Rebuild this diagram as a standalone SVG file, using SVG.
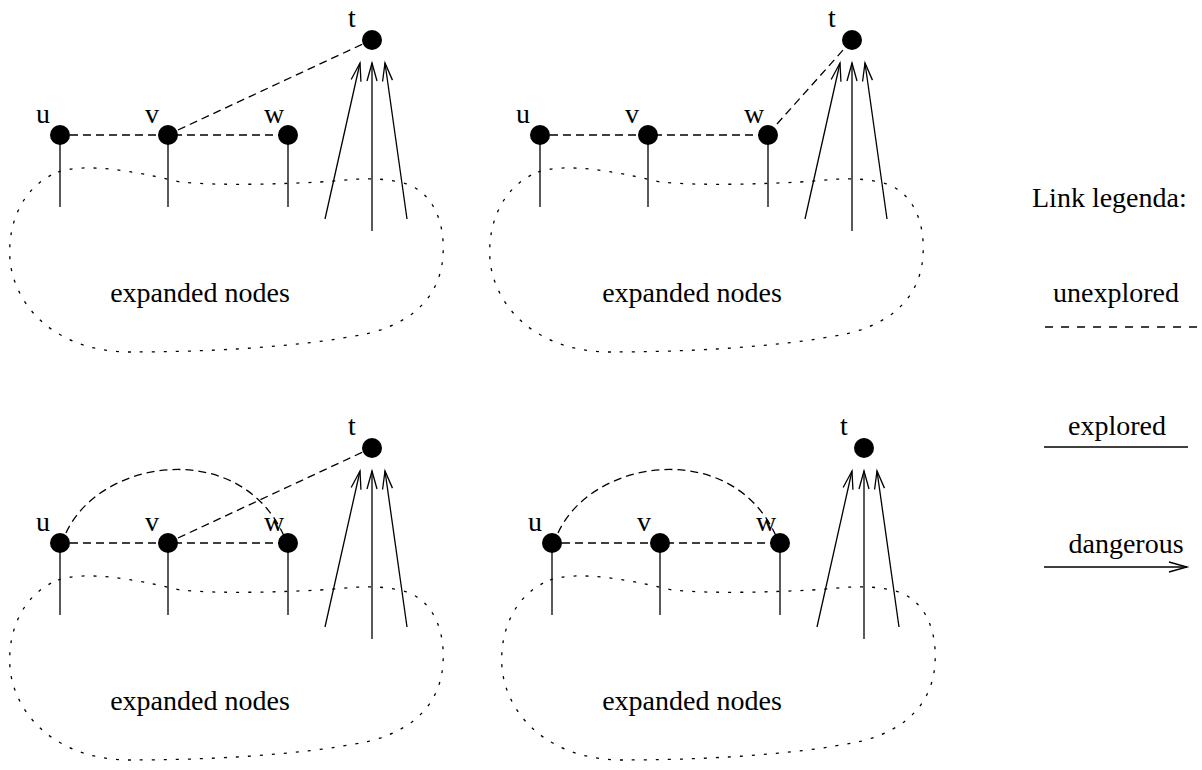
<svg xmlns="http://www.w3.org/2000/svg" width="1202" height="770" viewBox="0 0 1202 770">
<defs>
<style>
.lbl{font-family:"Liberation Serif","Times New Roman",serif;font-size:28px;fill:#000}
.node{fill:#000}
.solid{stroke:#000;stroke-width:1.3;fill:none}
.dash{stroke:#000;stroke-width:1.3;fill:none;stroke-dasharray:8 5}
.dot{stroke:#000;stroke-width:1.3;fill:none;stroke-dasharray:3 9}
.arr{stroke:#000;stroke-width:1.3;fill:none;marker-end:url(#open)}
</style>
<marker id="open" markerUnits="userSpaceOnUse" refX="0" refY="0" markerWidth="20" markerHeight="12" orient="auto" overflow="visible">
<path d="M-18,-5 L0,0 L-18,5" fill="none" stroke="#000" stroke-width="1.3"/>
</marker>
<path id="blob" d="M58,172 C85,163 130,170 180,182 C220,186 280,184 320,182 C350,180 370,176 400,182 C435,190 445,225 443,255 C441,290 420,320 370,333 C300,348 200,352 130,352 C60,352 15,310 10,260 C7,220 25,185 58,172 Z"/>
</defs>
<rect width="1202" height="770" fill="#fff"/>

<!-- Panel 1: top-left -->
<g id="panel1">
<g id="p1-connectors">
<use href="#blob" class="dot"/>
<line class="solid" x1="60" y1="135" x2="60" y2="207"/>
<line class="solid" x1="168" y1="135" x2="168" y2="207"/>
<line class="solid" x1="288" y1="135" x2="288" y2="207"/>
<line class="dash" x1="70" y1="135" x2="280" y2="135"/>
<line class="dash" x1="178" y1="130" x2="365" y2="43"/>
<line class="arr" x1="325" y1="219" x2="360" y2="63"/>
<line class="arr" x1="372" y1="231" x2="372" y2="63"/>
<line class="arr" x1="407" y1="219" x2="385" y2="63"/>
</g>
<g id="p1-u"><circle class="node" cx="60" cy="135" r="10"/><text class="lbl" x="43" y="123" text-anchor="middle">u</text></g>
<g id="p1-v"><circle class="node" cx="168" cy="135" r="10"/><text class="lbl" x="152" y="123" text-anchor="middle">v</text></g>
<g id="p1-w"><circle class="node" cx="288" cy="135" r="10"/><text class="lbl" x="274" y="123" text-anchor="middle">w</text></g>
<g id="p1-t"><circle class="node" cx="372" cy="40" r="10"/><text class="lbl" x="352" y="27" text-anchor="middle">t</text></g>
<g id="p1-label"><text class="lbl" x="200" y="302" text-anchor="middle">expanded nodes</text></g>
</g>

<!-- Panel 2: top-right -->
<g id="panel2">
<g id="p2-connectors" transform="translate(480,0)">
<use href="#blob" class="dot"/>
<line class="solid" x1="60" y1="135" x2="60" y2="207"/>
<line class="solid" x1="168" y1="135" x2="168" y2="207"/>
<line class="solid" x1="288" y1="135" x2="288" y2="207"/>
<line class="dash" x1="70" y1="135" x2="280" y2="135"/>
<line class="dash" x1="297" y1="124" x2="364" y2="49"/>
<line class="arr" x1="325" y1="219" x2="360" y2="63"/>
<line class="arr" x1="372" y1="231" x2="372" y2="63"/>
<line class="arr" x1="407" y1="219" x2="385" y2="63"/>
</g>
<g id="p2-u"><circle class="node" cx="540" cy="135" r="10"/><text class="lbl" x="523" y="123" text-anchor="middle">u</text></g>
<g id="p2-v"><circle class="node" cx="648" cy="135" r="10"/><text class="lbl" x="632" y="123" text-anchor="middle">v</text></g>
<g id="p2-w"><circle class="node" cx="768" cy="135" r="10"/><text class="lbl" x="754" y="123" text-anchor="middle">w</text></g>
<g id="p2-t"><circle class="node" cx="852" cy="40" r="10"/><text class="lbl" x="832" y="27" text-anchor="middle">t</text></g>
<g id="p2-label"><text class="lbl" x="692" y="302" text-anchor="middle">expanded nodes</text></g>
</g>

<!-- Panel 3: bottom-left -->
<g id="panel3">
<g id="p3-connectors" transform="translate(0,408)">
<use href="#blob" class="dot"/>
<line class="solid" x1="60" y1="135" x2="60" y2="207"/>
<line class="solid" x1="168" y1="135" x2="168" y2="207"/>
<line class="solid" x1="288" y1="135" x2="288" y2="207"/>
<line class="dash" x1="70" y1="135" x2="280" y2="135"/>
<line class="dash" x1="178" y1="130" x2="365" y2="43"/>
<path class="dash" d="M66,125 C100,50 240,30 284,128"/>
<line class="arr" x1="325" y1="219" x2="360" y2="63"/>
<line class="arr" x1="372" y1="231" x2="372" y2="63"/>
<line class="arr" x1="407" y1="219" x2="385" y2="63"/>
</g>
<g id="p3-u"><circle class="node" cx="60" cy="543" r="10"/><text class="lbl" x="43" y="531" text-anchor="middle">u</text></g>
<g id="p3-v"><circle class="node" cx="168" cy="543" r="10"/><text class="lbl" x="152" y="531" text-anchor="middle">v</text></g>
<g id="p3-w"><circle class="node" cx="288" cy="543" r="10"/><text class="lbl" x="274" y="531" text-anchor="middle">w</text></g>
<g id="p3-t"><circle class="node" cx="372" cy="448" r="10"/><text class="lbl" x="352" y="435" text-anchor="middle">t</text></g>
<g id="p3-label"><text class="lbl" x="200" y="710" text-anchor="middle">expanded nodes</text></g>
</g>

<!-- Panel 4: bottom-right -->
<g id="panel4">
<g id="p4-connectors" transform="translate(492,408)">
<use href="#blob" class="dot"/>
<line class="solid" x1="60" y1="135" x2="60" y2="207"/>
<line class="solid" x1="168" y1="135" x2="168" y2="207"/>
<line class="solid" x1="288" y1="135" x2="288" y2="207"/>
<line class="dash" x1="70" y1="135" x2="280" y2="135"/>
<path class="dash" d="M66,125 C100,50 240,30 284,128"/>
<line class="arr" x1="325" y1="219" x2="360" y2="63"/>
<line class="arr" x1="372" y1="231" x2="372" y2="63"/>
<line class="arr" x1="407" y1="219" x2="385" y2="63"/>
</g>
<g id="p4-u"><circle class="node" cx="552" cy="543" r="10"/><text class="lbl" x="535" y="531" text-anchor="middle">u</text></g>
<g id="p4-v"><circle class="node" cx="660" cy="543" r="10"/><text class="lbl" x="644" y="531" text-anchor="middle">v</text></g>
<g id="p4-w"><circle class="node" cx="780" cy="543" r="10"/><text class="lbl" x="766" y="531" text-anchor="middle">w</text></g>
<g id="p4-t"><circle class="node" cx="864" cy="448" r="10"/><text class="lbl" x="844" y="435" text-anchor="middle">t</text></g>
<g id="p4-label"><text class="lbl" x="692" y="710" text-anchor="middle">expanded nodes</text></g>
</g>

<!-- Legend -->
<g id="legend">
<text class="lbl" x="1032" y="207">Link legenda:</text>
<text class="lbl" x="1116" y="302" text-anchor="middle">unexplored</text>
<line x1="1045" y1="327" x2="1202" y2="327" stroke="#000" stroke-width="1.3" stroke-dasharray="8 8"/>
<text class="lbl" x="1117" y="435" text-anchor="middle">explored</text>
<line class="solid" x1="1044" y1="447" x2="1188" y2="447"/>
<text class="lbl" x="1126" y="553" text-anchor="middle">dangerous</text>
<line class="arr" x1="1044" y1="567" x2="1187" y2="567"/>
</g>
</svg>
